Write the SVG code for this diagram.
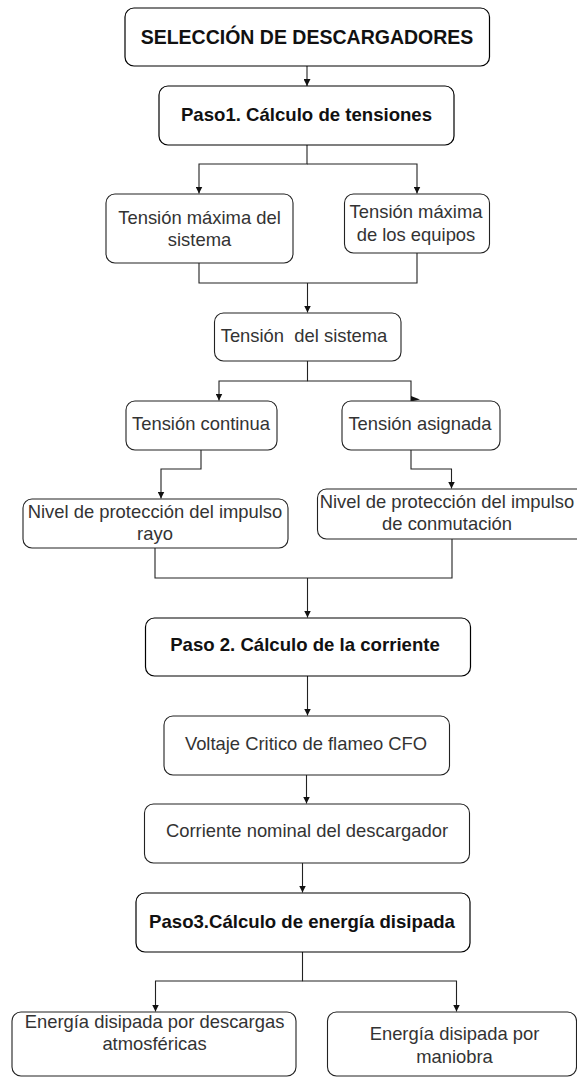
<svg xmlns="http://www.w3.org/2000/svg" width="577" height="1077" viewBox="0 0 577 1077">
<defs>
<style>
.box{fill:#fff;stroke:#222;stroke-width:1.1}
.main{fill:#fff;stroke:#000;stroke-width:1.2}
.t{font-family:"Liberation Sans",Arial,sans-serif;font-size:18.4px;fill:#333;text-anchor:middle}
.b{font-family:"Liberation Sans",Arial,sans-serif;font-size:18.6px;font-weight:bold;fill:#111;text-anchor:middle}
.c{fill:none;stroke:#222;stroke-width:1.1}
</style>
<marker id="ah" viewBox="0 0 10 10" refX="10" refY="5" markerWidth="7" markerHeight="7" markerUnits="userSpaceOnUse" orient="auto">
<path d="M0,0 L10,5 L0,10 z" fill="#111"/>
</marker>
</defs>
<rect width="577" height="1077" fill="#fff"/>
<g id="connectors">
<path class="c" d="M307,66 V86" marker-end="url(#ah)"/>
<path class="c" d="M307,145 V164 H199 V193.5" marker-end="url(#ah)"/>
<path class="c" d="M307,164 H417 V193.5" marker-end="url(#ah)"/>
<path class="c" d="M199,263 V283 H417 V253"/>
<path class="c" d="M307.5,283 V312.5" marker-end="url(#ah)"/>
<path class="c" d="M307.5,361 V381 H219 V400.5" marker-end="url(#ah)"/>
<path class="c" d="M307.5,381 H411 V401"/>
<polygon points="411,396 420,399.5 411,401.5" fill="#111"/>
<path class="c" d="M201,450 V469 H161 V498.5" marker-end="url(#ah)"/>
<path class="c" d="M411,450 V469 H451.5 V488.5" marker-end="url(#ah)"/>
<path class="c" d="M155,548 V578 H452 V539"/>
<path class="c" d="M307.5,578 V617.5" marker-end="url(#ah)"/>
<path class="c" d="M307.5,676 V715.5" marker-end="url(#ah)"/>
<path class="c" d="M306.5,775 V803.5" marker-end="url(#ah)"/>
<path class="c" d="M302.5,863 V892.5" marker-end="url(#ah)"/>
<path class="c" d="M302.5,952 V981 H155.5 V1011.5" marker-end="url(#ah)"/>
<path class="c" d="M302.5,981 H456.5 V1011.5" marker-end="url(#ah)"/>
</g>
<g id="n-title">
<rect class="main" x="125" y="8" width="364.5" height="58" rx="9"/>
<text class="b" x="307" y="44" style="font-size:19.5px">SELECCIÓN DE DESCARGADORES</text>
</g>
<g id="n-paso1">
<rect class="main" x="159" y="86" width="295" height="59" rx="9"/>
<text class="b" x="306.5" y="121">Paso1. Cálculo de tensiones</text>
</g>
<g id="n-tmax-sistema">
<rect class="box" x="106" y="194" width="187" height="69" rx="9"/>
<text class="t" x="199.5" y="224">Tensión máxima del</text>
<text class="t" x="199.5" y="246">sistema</text>
</g>
<g id="n-tmax-equipos">
<rect class="box" x="344.5" y="194" width="145" height="59" rx="9"/>
<text class="t" x="416" y="218">Tensión máxima</text>
<text class="t" x="416" y="241">de los equipos</text>
</g>
<g id="n-tension-sistema">
<rect class="box" x="214.5" y="313" width="186.5" height="48" rx="9"/>
<text class="t" x="304" y="342" xml:space="preserve" style="white-space:pre">Tensión  del sistema</text>
</g>
<g id="n-tension-continua">
<rect class="box" x="126" y="401" width="151" height="49" rx="9"/>
<text class="t" x="201" y="430">Tensión continua</text>
</g>
<g id="n-tension-asignada">
<rect class="box" x="342" y="401" width="158" height="49" rx="9"/>
<text class="t" x="420" y="430">Tensión asignada</text>
</g>
<g id="n-nivel-rayo">
<rect class="box" x="23" y="499" width="265" height="49" rx="9"/>
<text class="t" x="155" y="518">Nivel de protección del impulso</text>
<text class="t" x="155" y="540">rayo</text>
</g>
<g id="n-nivel-conmutacion">
<rect class="box" x="317.5" y="489" width="272" height="50" rx="9"/>
<text class="t" x="447" y="508">Nivel de protección del impulso</text>
<text class="t" x="447" y="530">de conmutación</text>
</g>
<g id="n-paso2">
<rect class="main" x="145.5" y="618" width="325" height="58" rx="9"/>
<text class="b" x="305" y="651">Paso 2. Cálculo de la corriente</text>
</g>
<g id="n-cfo">
<rect class="box" x="164" y="716" width="285.5" height="59" rx="9"/>
<text class="t" x="306" y="750">Voltaje Critico de flameo CFO</text>
</g>
<g id="n-corriente">
<rect class="box" x="144.5" y="804" width="325" height="59" rx="9"/>
<text class="t" x="307" y="837">Corriente nominal del descargador</text>
</g>
<g id="n-paso3">
<rect class="main" x="136" y="893" width="334" height="59" rx="9"/>
<text class="b" x="302" y="928">Paso3.Cálculo de energía disipada</text>
</g>
<g id="n-energia-atm">
<rect class="box" x="12" y="1012" width="284" height="64" rx="9"/>
<text class="t" x="154.5" y="1028">Energía disipada por descargas</text>
<text class="t" x="154.5" y="1050">atmosféricas</text>
</g>
<g id="n-energia-maniobra">
<rect class="box" x="327.5" y="1012" width="249" height="64" rx="9"/>
<text class="t" x="454.5" y="1040">Energía disipada por</text>
<text class="t" x="454.5" y="1063">maniobra</text>
</g>
</svg>
